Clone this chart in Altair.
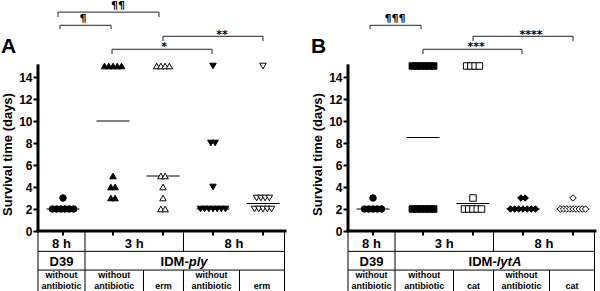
import altair as alt
import pandas as pd

FONT = "Liberation Sans"
SYM_FONT = "DejaVu Sans"

# ---------------- data (survival time in days, one value per mouse) -------------
groups = ["g1", "g2", "g3", "g4", "g5"]

a_values = [
    [3, 2, 2, 2, 2, 2, 2],                      # D39 8 h without antibiotic
    [15, 15, 15, 15, 15, 5, 4, 4, 3, 3],        # IDM-ply 3 h without antibiotic
    [15, 15, 15, 15, 5, 5, 4, 3, 2, 2],         # IDM-ply 3 h erm
    [15, 8, 8, 4, 2, 2, 2, 2, 2, 2, 2],         # IDM-ply 8 h without antibiotic
    [15, 3, 3, 3, 3, 2, 2, 2, 2, 2],            # IDM-ply 8 h erm
]
b_values = [
    [3, 2, 2, 2, 2, 2],                         # D39 8 h without antibiotic
    [15, 15, 15, 15, 15, 15, 2, 2, 2, 2, 2, 2], # IDM-lytA 3 h without antibiotic
    [15, 15, 15, 15, 3, 2, 2, 2, 2, 2],         # IDM-lytA 3 h cat
    [3, 3, 2, 2, 2, 2, 2, 2, 2],                # IDM-lytA 8 h without antibiotic
    [3, 2, 2, 2, 2, 2, 2, 2, 2, 2],             # IDM-lytA 8 h cat
]
a_shapes = ["circle", "triangle-up", "triangle-up", "triangle-down", "triangle-down"]
b_shapes = ["circle", "square", "square", "diamond", "diamond"]
fills = ["black", "black", "white", "black", "white"]

time_labels = ["8 h", "3 h", "8 h"]
strain_labels_a = ["D39", "IDM-", "ply"]
strain_labels_b = ["D39", "IDM-", "lytA"]
treat_a = [["without", "antibiotic"], ["without", "antibiotic"], ["", "erm"],
           ["without", "antibiotic"], ["", "erm"]]
treat_b = [["without", "antibiotic"], ["without", "antibiotic"], ["", "cat"],
           ["without", "antibiotic"], ["", "cat"]]

# significance brackets: (label, left end, right end, level, leg end, label x, label y)
brackets_a = [("¶¶", 0.9, 2.92, 19.9, 19.45, 2.1, 20.45),
              ("¶", 0.94, 1.96, 18.7, 18.36, 1.4, 19.3),
              ("**", 3.0, 5.0, 17.7, 17.27, 4.18, 17.85),
              ("*", 1.98, 3.98, 16.52, 16.09, 3.02, 16.75)]
brackets_b = [("¶¶¶", 0.94, 1.96, 18.7, 18.36, 1.44, 19.3),
              ("****", 3.0, 5.0, 17.7, 17.27, 4.16, 17.85),
              ("***", 2.0, 3.98, 16.52, 16.09, 3.06, 16.75)]

# ---------------- layout constants -------------
Y_DOM = [-62 / 11, 229 / 11]
X_DOM = [0.5, 5.5]
COLS = [0.5, 1.44, 2.61, 3.41, 4.53, 5.43]
ROW1, ROW2, BOTTOM = -1.85, -3.55, Y_DOM[0]

xs = alt.Scale(domain=X_DOM, nice=False, zero=False)
ys = alt.Scale(domain=Y_DOM, nice=False, zero=False)
yaxis = alt.Axis(values=list(range(0, 15, 2)), domain=False, grid=False,
                 title="Survival time (days)", titleFont=FONT, titleFontSize=13,
                 titleFontWeight="bold", titleColor="black", titlePadding=4,
                 titleY=152, labelFont=FONT, labelFontSize=12, labelFontWeight="bold",
                 labelColor="black", labelPadding=1, tickSize=5, tickWidth=2,
                 tickColor="black")


def X(f):
    return alt.X(f, type="quantitative", scale=xs, axis=None)


def X2(f):
    return alt.X2(f)


def Y(f):
    return alt.Y(f, type="quantitative", scale=ys, axis=yaxis)


def jitter(values_lists, spacing=0.085, max_span=0.5):
    rows = []
    for gi, vals in enumerate(values_lists):
        counts = {}
        for v in vals:
            counts[v] = counts.get(v, 0) + 1
        for v, n in counts.items():
            step = spacing if (n - 1) * spacing <= max_span else max_span / max(n - 1, 1)
            for k in range(n):
                rows.append({"group": groups[gi], "x": gi + 1 + (k - (n - 1) / 2) * step,
                             "days": v})
    return pd.DataFrame(rows)


def panel(letter, values, shapes, brackets, strain, treat, italic_dx):
    pts = jitter(values)
    med = pd.DataFrame([{"x": i + 1 - 0.33, "x2": i + 1 + 0.33,
                         "days": float(pd.Series(v).median())} for i, v in enumerate(values)])

    points = alt.Chart(pts).mark_point(filled=True, stroke="black", strokeWidth=1,
                                       size=42, opacity=1).encode(
        x=X("x"), y=Y("days"),
        shape=alt.Shape("group:N", scale=alt.Scale(domain=groups, range=shapes), legend=None),
        fill=alt.Fill("group:N", scale=alt.Scale(domain=groups, range=fills), legend=None),
    )
    medians = alt.Chart(med).mark_rule(color="black", strokeWidth=1).encode(
        x=X("x"), x2=X2("x2"), y=Y("days"))

    # axes lines
    yline = alt.Chart(pd.DataFrame({"x": [0.5], "y": [0], "y2": [15.15]})).mark_rule(
        color="black", strokeWidth=3).encode(x=X("x"), y=Y("y"), y2=alt.Y2("y2"))
    xline = alt.Chart(pd.DataFrame({"x": [0.47], "x2": [5.47], "y": [0]})).mark_rule(
        color="black", strokeWidth=3).encode(x=X("x"), x2=X2("x2"), y=Y("y"))
    xticks = alt.Chart(pd.DataFrame({"x": [1, 2, 3, 4, 5]})).mark_rule(
        color="black", strokeWidth=2).encode(
        x=X("x"), y=alt.value(229), y2=alt.value(233.5))

    # table grid
    hl = pd.DataFrame({"x": [COLS[0]] * 2, "x2": [COLS[-1]] * 2, "y": [ROW1, ROW2]})
    hlines = alt.Chart(hl).mark_rule(color="black", strokeWidth=1).encode(
        x=X("x"), x2=X2("x2"), y=Y("y"))
    vrows = []
    for c in [COLS[0], COLS[1], COLS[3], COLS[5]]:
        vrows.append({"x": c, "y": 0, "y2": ROW1})
    for c in [COLS[0], COLS[1], COLS[5]]:
        vrows.append({"x": c, "y": ROW1, "y2": ROW2})
    for c in COLS:
        vrows.append({"x": c, "y": ROW2, "y2": BOTTOM})
    vlines = alt.Chart(pd.DataFrame(vrows)).mark_rule(color="black", strokeWidth=1).encode(
        x=X("x"), y=Y("y"), y2=alt.Y2("y2"))

    # table text
    mid = lambda a, b: (a + b) / 2
    big = pd.DataFrame([
        {"t": time_labels[0], "x": mid(COLS[0], COLS[1]), "y": -1.2},
        {"t": time_labels[1], "x": mid(COLS[1], COLS[3]), "y": -1.2},
        {"t": time_labels[2], "x": mid(COLS[3], COLS[5]), "y": -1.2},
        {"t": strain[0], "x": mid(COLS[0], COLS[1]), "y": -2.8},
    ])
    big_text = alt.Chart(big).mark_text(font=FONT, fontSize=13, fontWeight="bold",
                                        color="black", baseline="middle").encode(
        x=X("x"), y=Y("y"), text="t:N")
    idm = alt.Chart(pd.DataFrame([{"t": strain[1], "x": mid(COLS[1], COLS[5]), "y": -2.8}])
                    ).mark_text(font=FONT, fontSize=13, fontWeight="bold", color="black",
                                baseline="middle", align="right", dx=italic_dx).encode(
        x=X("x"), y=Y("y"), text="t:N")
    ital = alt.Chart(pd.DataFrame([{"t": strain[2], "x": mid(COLS[1], COLS[5]), "y": -2.8}])
                     ).mark_text(font=FONT, fontSize=13, fontWeight="bold", fontStyle="italic",
                                 color="black", baseline="middle", align="left",
                                 dx=italic_dx).encode(x=X("x"), y=Y("y"), text="t:N")
    small_rows = []
    for i, (l1, l2) in enumerate(treat):
        cx = mid(COLS[i], COLS[i + 1])
        if l1:
            small_rows.append({"t": l1, "x": cx, "y": -4.02})
        small_rows.append({"t": l2, "x": cx, "y": -4.97})
    small_text = alt.Chart(pd.DataFrame(small_rows)).mark_text(
        font=FONT, fontSize=9, fontWeight="bold", color="black", baseline="middle").encode(
        x=X("x"), y=Y("y"), text="t:N")

    # brackets
    br = pd.DataFrame([{"t": b[0], "x": b[1], "x2": b[2], "y": b[3], "yl": b[4],
                        "lx": b[5], "ly": b[6]} for b in brackets])
    legs = pd.concat([br[["x", "y", "yl"]],
                      br[["x2", "y", "yl"]].rename(columns={"x2": "x"})])
    bh = alt.Chart(br).mark_rule(color="#222", strokeWidth=1).encode(
        x=X("x"), x2=X2("x2"), y=Y("y"))
    bl = alt.Chart(legs).mark_rule(color="#222", strokeWidth=1).encode(
        x=X("x"), y=Y("y"), y2=alt.Y2("yl"))
    btxt = alt.Chart(br).mark_text(font=SYM_FONT, fontSize=11, fontWeight="bold",
                                   color="black", baseline="middle").encode(
        x=X("lx"), y=Y("ly"), text="t:N")

    lab = alt.Chart(pd.DataFrame([{"t": letter, "x": -0.09, "y": 16.7}])).mark_text(
        font=FONT, fontSize=21, fontWeight="bold", color="black", baseline="middle").encode(
        x=X("x"), y=Y("y"), text="t:N")

    return alt.layer(medians, points, yline, xline, xticks, hlines, vlines, big_text, idm,
                     ital, small_text, bh, bl, btxt, lab).properties(width=250, height=291)


pa = panel("A", a_values, a_shapes, brackets_a, strain_labels_a, treat_a, 4)
pb = panel("B", b_values, b_shapes, brackets_b, strain_labels_b, treat_b, 2)

chart = alt.hconcat(pa, pb, spacing=22).resolve_scale(
    shape="independent", fill="independent").properties(
    padding=0, background="white").configure_view(stroke=None)

chart.save("out.html", embed_options={"renderer": "svg", "actions": False})
